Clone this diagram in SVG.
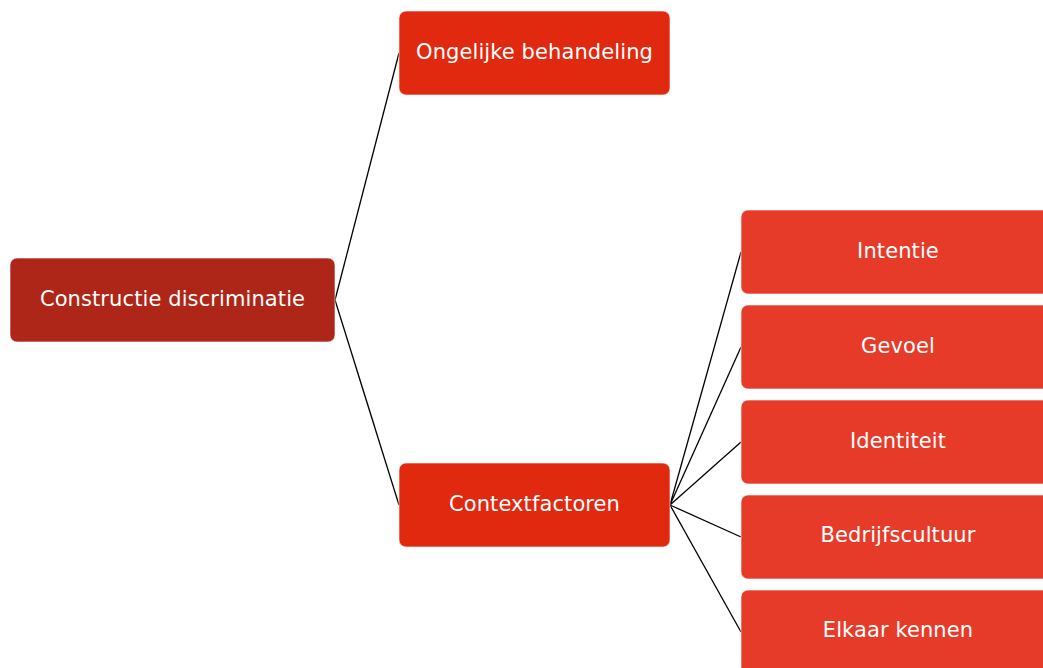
<svg xmlns="http://www.w3.org/2000/svg" width="1043" height="668" viewBox="0 0 1043 668">
<style>
.box{stroke:#ffffff;stroke-width:1;stroke-opacity:0.6}
.root{fill:#AE2617}
.mid{fill:#E0290F}
.leaf{fill:#E73B2A}
text{font-family:"DejaVu Sans",Verdana,sans-serif;font-size:21px;letter-spacing:0.1px;fill:#ffffff;text-anchor:middle;dominant-baseline:central}
.conn line{stroke:#000000;stroke-width:1.3}
</style>
<rect width="1043" height="668" fill="#ffffff"/>
<g class="conn" id="connectors">
<line x1="335" y1="300" x2="399" y2="53"/>
<line x1="335" y1="300" x2="399" y2="505"/>
<line x1="670" y1="505" x2="741" y2="252"/>
<line x1="670" y1="505" x2="741" y2="347"/>
<line x1="670" y1="505" x2="741" y2="442"/>
<line x1="670" y1="505" x2="741" y2="537"/>
<line x1="670" y1="505" x2="741" y2="632"/>
</g>
<g id="n-root"><rect class="box root" x="10" y="258" width="325" height="84" rx="7"/><text x="172.5" y="299">Constructie discriminatie</text></g>
<g id="n-ongelijk"><rect class="box mid" x="399" y="11" width="271" height="84" rx="7"/><text x="534.5" y="52">Ongelijke behandeling</text></g>
<g id="n-context"><rect class="box mid" x="399" y="463" width="271" height="84" rx="7"/><text x="534.5" y="504">Contextfactoren</text></g>
<g id="n-intentie"><rect class="box leaf" x="741" y="210" width="314" height="84" rx="7"/><text x="898" y="251">Intentie</text></g>
<g id="n-gevoel"><rect class="box leaf" x="741" y="305" width="314" height="84" rx="7"/><text x="898" y="346">Gevoel</text></g>
<g id="n-identiteit"><rect class="box leaf" x="741" y="400" width="314" height="84" rx="7"/><text x="898" y="441">Identiteit</text></g>
<g id="n-bedrijf"><rect class="box leaf" x="741" y="495" width="314" height="84" rx="7"/><text x="898" y="535">Bedrijfscultuur</text></g>
<g id="n-elkaar"><rect class="box leaf" x="741" y="590" width="314" height="84" rx="7"/><text x="898" y="630">Elkaar kennen</text></g>
</svg>
